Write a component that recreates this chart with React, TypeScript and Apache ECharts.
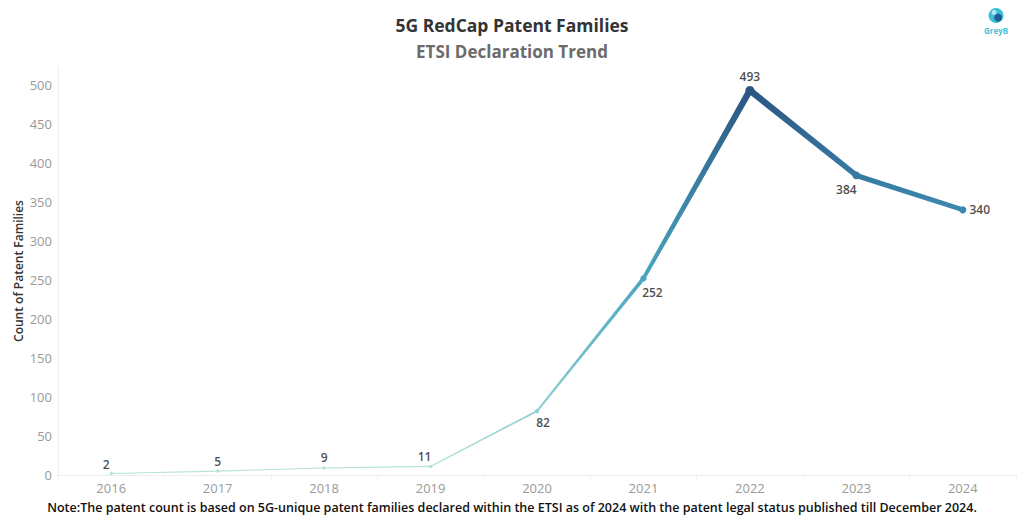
import React, { useEffect, useRef } from "react";
import * as echarts from "echarts";

const years = ["2016", "2017", "2018", "2019", "2020", "2021", "2022", "2023", "2024"];
const patentCounts = [2, 5, 9, 11, 82, 252, 493, 384, 340];
const yTicks = { min: 0, max: 523, interval: 50 };

const titleText = "5G RedCap Patent Families";
const subtitleText = "ETSI Declaration Trend";
const yAxisName = "Count of Patent Families";
const noteText =
  "Note:The patent count is based on 5G-unique patent families declared within the ETSI as of 2024 with the patent legal status published till December 2024.";

// label offsets (style only)
const labelOffsets: [number, number][] = [
  [-5, -9], [0, -10], [0, -10], [-6, -10], [6, 11], [9, 14], [0, -14], [-10, 14], [17, 0],
];

const colorStops: [number, number[]][] = [
  [0, [184, 228, 214]],
  [100, [134, 204, 208]],
  [250, [75, 167, 192]],
  [350, [58, 134, 173]],
  [400, [53, 116, 160]],
  [500, [42, 84, 128]],
];

function colorFor(v: number): string {
  for (let i = 0; i < colorStops.length - 1; i++) {
    const [a, ca] = colorStops[i];
    const [b, cb] = colorStops[i + 1];
    if (v <= b) {
      const t = Math.max(0, (v - a) / (b - a));
      const c = ca.map((x, k) => Math.round(x + (cb[k] - x) * t));
      return `rgb(${c[0]},${c[1]},${c[2]})`;
    }
  }
  const c = colorStops[colorStops.length - 1][1];
  return `rgb(${c[0]},${c[1]},${c[2]})`;
}

function widthFor(v: number): number {
  return 1 + (v / 493) * 5.5;
}

export default function App() {
  const ref = useRef<HTMLDivElement>(null);

  useEffect(() => {
    if (!ref.current) return;
    const chart = echarts.init(ref.current, undefined, { renderer: "svg" });

    const segments = patentCounts.slice(0, -1).map((v, i) => [i, v, patentCounts[i + 1]]);
    const last = segments.length - 1;

    const option: any = {
      animation: false,
      backgroundColor: "#ffffff",
      textStyle: { fontFamily: "Open Sans" },
      title: [
        {
          text: titleText,
          left: "center",
          top: 11,
          textStyle: { fontFamily: "Open Sans", fontWeight: "bold", fontSize: 17.5, color: "#333333" },
        },
        {
          text: subtitleText,
          left: "center",
          top: 38,
          textStyle: { fontFamily: "Open Sans", fontWeight: "bold", fontSize: 17, color: "#6b6b6b" },
        },
      ],
      grid: { left: 58, right: 8, top: 67, bottom: 47, containLabel: false },
      xAxis: {
        type: "category",
        data: years,
        boundaryGap: true,
        axisLine: { show: true, lineStyle: { color: "#eeeeee" } },
        axisTick: { show: true, length: 4, lineStyle: { color: "#eeeeee" } },
        axisLabel: { color: "#9a9a9a", fontSize: 13, margin: 6, fontFamily: "Open Sans" },
      },
      yAxis: {
        type: "value",
        min: yTicks.min,
        max: yTicks.max,
        interval: yTicks.interval,
        name: yAxisName,
        nameLocation: "middle",
        nameGap: 34,
        nameMoveOverlap: false,
        nameTextStyle: { color: "#333333", fontSize: 12, fontWeight: 600, fontFamily: "Open Sans" },
        axisLine: { show: true, lineStyle: { color: "#eeeeee" } },
        axisTick: { show: false },
        splitLine: { show: false },
        axisLabel: { color: "#9a9a9a", fontSize: 13, margin: 6, showMaxLabel: false, fontFamily: "Open Sans" },
      },
      series: [
        {
          type: "custom",
          data: segments,
          clip: false,
          renderItem: (params: any, api: any) => {
            const i = api.value(0);
            const v1 = api.value(1);
            const v2 = api.value(2);
            const p1 = api.coord([i, v1]);
            const p2 = api.coord([i + 1, v2]);
            const w1 = widthFor(v1);
            const w2 = widthFor(v2);
            const dx = p2[0] - p1[0];
            const dy = p2[1] - p1[1];
            const len = Math.sqrt(dx * dx + dy * dy) || 1;
            const nx = -dy / len;
            const ny = dx / len;
            const c1 = colorFor(v1);
            const c2 = colorFor(v2);
            const grad = new echarts.graphic.LinearGradient(
              p1[0], p1[1], p2[0], p2[1],
              [{ offset: 0, color: c1 }, { offset: 1, color: c2 }],
              true
            );
            const children: any[] = [
              {
                type: "polygon",
                shape: {
                  points: [
                    [p1[0] + (nx * w1) / 2, p1[1] + (ny * w1) / 2],
                    [p2[0] + (nx * w2) / 2, p2[1] + (ny * w2) / 2],
                    [p2[0] - (nx * w2) / 2, p2[1] - (ny * w2) / 2],
                    [p1[0] - (nx * w1) / 2, p1[1] - (ny * w1) / 2],
                  ],
                },
                style: { fill: grad },
              },
              {
                type: "circle",
                shape: { cx: p1[0], cy: p1[1], r: w1 / 2 + 1.2 },
                style: { fill: c1 },
              },
            ];
            if (params.dataIndex === last) {
              children.push({
                type: "circle",
                shape: { cx: p2[0], cy: p2[1], r: w2 / 2 + 1.2 },
                style: { fill: c2 },
              });
            }
            return { type: "group", children };
          },
          z: 2,
        },
        {
          type: "scatter",
          data: patentCounts.map((v, i) => ({
            value: [i, v],
            label: { offset: labelOffsets[i] },
          })),
          symbolSize: 0,
          silent: true,
          z: 3,
          label: {
            show: true,
            position: "inside",
            formatter: (p: any) => String(p.value[1]),
            color: "#1a1a1a",
            fontSize: 12,
            fontWeight: 600,
            fontFamily: "Open Sans",
          },
        },
      ],
      graphic: [
        {
          type: "group",
          left: 984,
          top: 8,
          children: [
            { type: "circle", shape: { cx: 11, cy: 9, r: 7.5 }, style: { fill: "#3cc0d8" } },
            { type: "circle", shape: { cx: 13, cy: 11, r: 4 }, style: { fill: "#1f5d9a" } },
            { type: "circle", shape: { cx: 9, cy: 6, r: 2.5 }, style: { fill: "#ffffff", opacity: 0.6 } },
            {
              type: "text",
              x: 11,
              y: 20,
              style: {
                text: "GreyB",
                fill: "#49c0d8",
                fontSize: 8,
                fontWeight: "bold",
                fontFamily: "Open Sans",
                align: "center",
              },
            },
          ],
        },
        {
          type: "text",
          left: "center",
          top: 501,
          style: {
            text: noteText,
            fill: "#111111",
            fontSize: 12.5,
            fontWeight: 600,
            fontFamily: "Open Sans",
          },
        },
      ],
    };

    chart.setOption(option);
    return () => chart.dispose();
  }, []);

  return <div ref={ref} style={{ width: 1024, height: 522, position: "absolute", left: 0, top: 0 }} />;
}
